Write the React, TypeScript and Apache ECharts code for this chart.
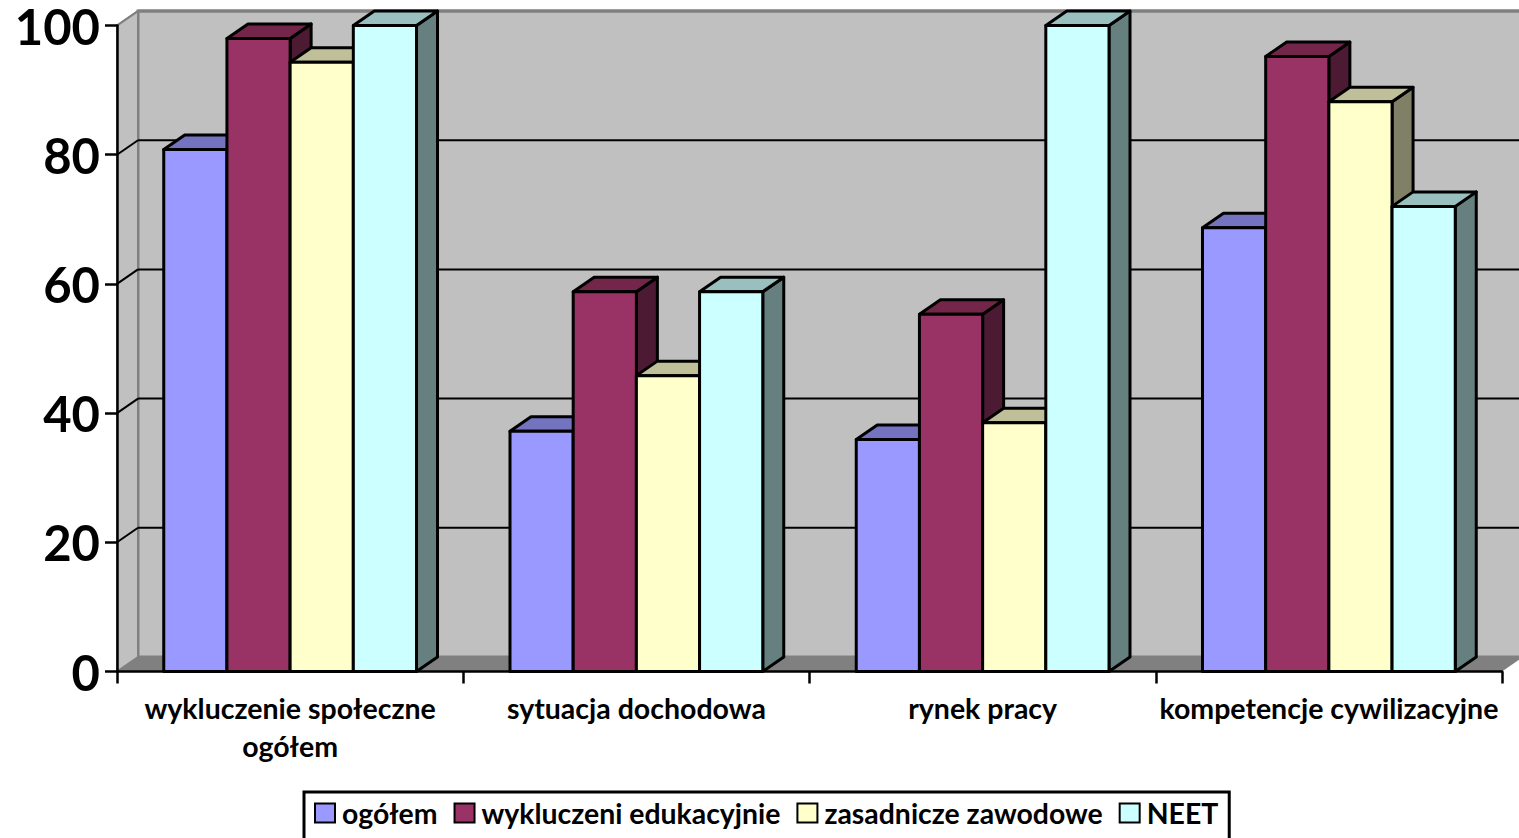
import React, { useEffect, useRef } from "react";
import * as echarts from "echarts";

const categories = ["wykluczenie społeczne\nogółem", "sytuacja dochodowa", "rynek pracy", "kompetencje cywilizacyjne"];
const seriesNames = ["ogółem", "wykluczeni edukacyjnie", "zasadnicze zawodowe", "NEET"];
const ogolem = [80.8, 37.2, 35.9, 68.7];
const wykluczeni = [98, 58.8, 55.3, 95.2];
const zasadnicze = [94.3, 45.8, 38.5, 88.2];
const neet = [100, 58.8, 100, 72];
const yTicks = [0, 20, 40, 60, 80, 100];
const colors = ["#9999ff", "#993366", "#ffffcc", "#ccffff"];
const topColors = ["#7373bf", "#732649", "#bfbf99", "#99bfbf"];
const sideColors = ["#4d4d80", "#4d1a33", "#808066", "#668080"];

const DX = 21;
const DY = 14.5;
const BAR_FRACTION = 0.1825;
const LINE = 3;
const FONT = "Lato, Carlito, sans-serif";

function poly(points: number[][], fill: string, stroke: string | null, lineWidth = LINE) {
  return {
    type: "polygon",
    shape: { points },
    style: { fill, stroke: stroke ?? "none", lineWidth, lineJoin: "round" },
  };
}

function renderBar(seriesIdx: number) {
  return (_params: any, api: any) => {
    const cat = api.value(0);
    const val = api.value(1);
    const band = api.size([1, 0])[0];
    const w = band * BAR_FRACTION;
    const [cx, yTop] = api.coord([cat, val]);
    const [, y0] = api.coord([cat, 0]);
    const xL = cx - 2 * w + seriesIdx * w;
    const xR = xL + w;
    return {
      type: "group",
      children: [
        poly([[xR, yTop], [xR + DX, yTop - DY], [xR + DX, y0 - DY], [xR, y0]], sideColors[seriesIdx], "#000"),
        poly([[xL, yTop], [xL + DX, yTop - DY], [xR + DX, yTop - DY], [xR, yTop]], topColors[seriesIdx], "#000"),
        poly([[xL, yTop], [xR, yTop], [xR, y0], [xL, y0]], colors[seriesIdx], "#000"),
      ],
    };
  };
}

function renderWall(params: any, api: any) {
  const cs = params.coordSys;
  const left = cs.x;
  const right = cs.x + cs.width;
  const top = cs.y;
  const bottom = cs.y + cs.height;
  const tick = api.value(0);
  const y = api.coord([0, tick])[1];
  const children: any[] = [];
  if (params.dataIndex === 0) {
    children.push(
      { type: "rect", shape: { x: left + DX, y: top - DY, width: cs.width + 20, height: cs.height }, style: { fill: "#c0c0c0", stroke: "#808080", lineWidth: 3 } },
      poly([[left, top], [left + DX, top - DY], [left + DX, bottom - DY], [left, bottom]], "#c0c0c0", "#808080", 2),
      poly([[left, bottom], [left + DX, bottom - DY], [right + DX, bottom - DY], [right, bottom]], "#808080", null),
    );
  }
  if (tick !== 0) {
    children.push(
      { type: "line", shape: { x1: left, y1: y, x2: left + DX, y2: y - DY }, style: { stroke: tick === 100 ? "#808080" : "#000", lineWidth: 2 } },
    );
    children.push({ type: "line", shape: { x1: left + DX, y1: y - DY, x2: right + DX, y2: y - DY }, style: { stroke: tick === 100 ? "#808080" : "#000", lineWidth: tick === 100 ? 3 : 2 } });
  }
  return { type: "group", children };
}

export default function App() {
  const ref = useRef<HTMLDivElement>(null);
  useEffect(() => {
    const chart = echarts.init(ref.current!, null, { renderer: "svg" });
    const values = [ogolem, wykluczeni, zasadnicze, neet];
    chart.setOption({
      animation: false,
      backgroundColor: "#ffffff",
      tooltip: { show: false },
      grid: { left: 117, top: 25.5, width: 1385, height: 646, containLabel: false },
      legend: {
        data: seriesNames,
        left: 304,
        top: 792,
        padding: [7, 11, 14, 10],
        itemWidth: 20,
        itemHeight: 19,
        itemGap: 16,
        borderColor: "#000",
        borderWidth: 3,
        backgroundColor: "#ffffff",
        icon: "rect",
        selectedMode: false,
        textStyle: { fontFamily: FONT, fontWeight: "bold", fontSize: 28.4, lineHeight: 28, color: "#000", padding: [0, 0, 0, 2] },
      },
      xAxis: {
        type: "category",
        data: categories,
        z: 1,
        axisLine: { show: true, lineStyle: { color: "#000", width: 2.5 } },
        axisTick: { show: true, alignWithLabel: false, length: 12, lineStyle: { color: "#000", width: 2.5 } },
        axisLabel: { interval: 0, margin: 17, fontFamily: FONT, fontWeight: "bold", fontSize: 28.5, lineHeight: 38, color: "#000" },
        splitLine: { show: false },
      },
      yAxis: {
        type: "value",
        min: 0,
        max: 100,
        interval: 20,
        z: 1,
        axisLine: { show: true, lineStyle: { color: "#000", width: 2.5 } },
        axisTick: { show: true, length: 12, lineStyle: { color: "#000", width: 2.5 } },
        axisLabel: { margin: 17, fontFamily: FONT, fontWeight: "bold", fontSize: 49, lineHeight: 40, color: "#000" },
        splitLine: { show: false },
      },
      series: [
        {
          type: "custom",
          name: "wall",
          z: 0,
          silent: true,
          renderItem: renderWall,
          data: yTicks.map((t) => [t]),
          encode: { y: 0 },
        },
        ...seriesNames.map((name, s) => ({
          type: "custom",
          name,
          z: 2,
          silent: true,
          renderItem: renderBar(s),
          itemStyle: { color: colors[s], borderColor: "#000", borderWidth: 3 },
          data: values[s].map((v, i) => [i, v]),
          encode: { x: 0, y: 1 },
        })),
      ],
    });
    return () => chart.dispose();
  }, []);
  return <div ref={ref} style={{ position: "absolute", left: 0, top: 0, width: 1519, height: 838 }} />;
}
